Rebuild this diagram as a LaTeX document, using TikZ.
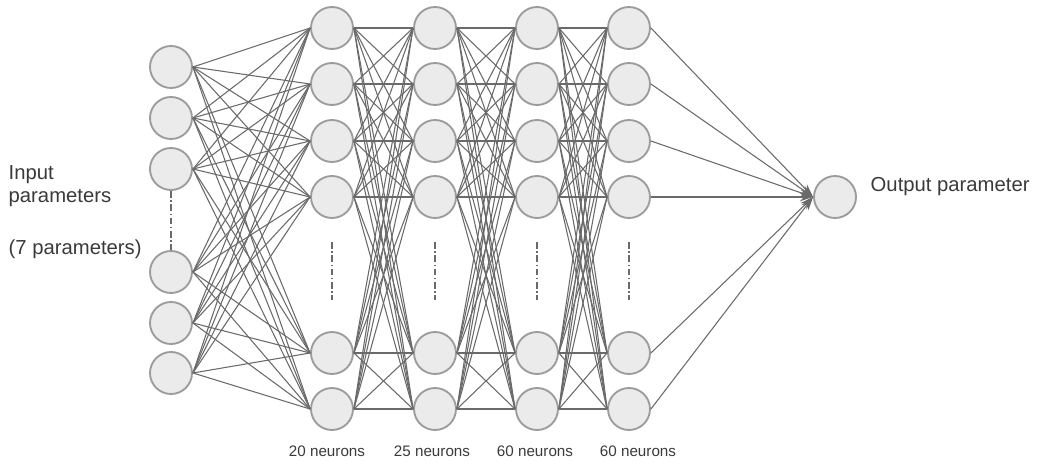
\documentclass[tikz,border=0pt]{standalone}
\usepackage{fontspec}
\setmainfont{Liberation Sans}
\usepackage{xcolor}
\definecolor{nodefill}{HTML}{EBEBEB}
\definecolor{nodeline}{HTML}{9C9C9C}
\definecolor{wire}{HTML}{6A6A6A}
\definecolor{labeltext}{HTML}{3A3A3A}
\usetikzlibrary{arrows.meta}

\begin{document}
\begin{tikzpicture}[x=0.75pt, y=-0.75pt,
  neuron/.style={circle, draw=nodeline, fill=nodefill, line width=1.4pt, minimum size=31.5pt, inner sep=0pt},
  wire/.style={draw=wire, line width=0.8pt},
  gap/.style={draw=wire, line width=1pt, dash pattern=on 5pt off 2pt on 1pt off 2pt},
  caption/.style={anchor=west, text=labeltext, font=\fontsize{15.2}{17}\selectfont},
  count/.style={text=labeltext, font=\fontsize{11.4}{13}\selectfont}]
  \useasboundingbox (0,0) rectangle (1037,463);

  % input column
  \foreach \n/\y in {1/67,2/118,3/169,4/272,5/323,6/373}
    \node[neuron] (i\n) at (171,\y) {};

  % hidden layers
  \foreach \l/\x in {a/332,b/435,c/537,d/629}
    \foreach \n/\y in {1/28,2/84,3/141,4/197,5/353,6/409}
      \node[neuron] (\l\n) at (\x,\y) {};

  \node[neuron] (out) at (835,197) {};

  % connections
  \foreach \i in {1,...,6}
    \foreach \j in {1,...,6}
      \draw[wire] (i\i.east) -- (a\j.west);
  \foreach \p/\q in {a/b,b/c,c/d}
    \foreach \i in {1,...,6}
      \foreach \j in {1,...,6}
        \draw[wire] (\p\i.east) -- (\q\j.west);
  \foreach \i in {1,...,6}
    \draw[wire, -{Stealth[length=10pt, width=6.5pt]}] (d\i.east) -- (out.west);

  % skipped neurons
  \draw[gap] (i3.south) -- (i4.north);
  \foreach \x in {332,435,537,629}
    \draw[gap] (\x,242) -- (\x,300);

  % labels
  \node[caption] (intop) at (4,175) {Input};
  \node[caption] (inmid) at (4,198) {parameters};
  \node[caption] (incount) at (4,249) {(7 parameters)};
  \node[caption] (outtext) at (866,187) {Output parameter};
  \node[count] (na) at (327,451) {20 neurons};
  \node[count] (nb) at (432,451) {25 neurons};
  \node[count] (nc) at (535,451) {60 neurons};
  \node[count] (nd) at (638,451) {60 neurons};
\end{tikzpicture}
\end{document}
